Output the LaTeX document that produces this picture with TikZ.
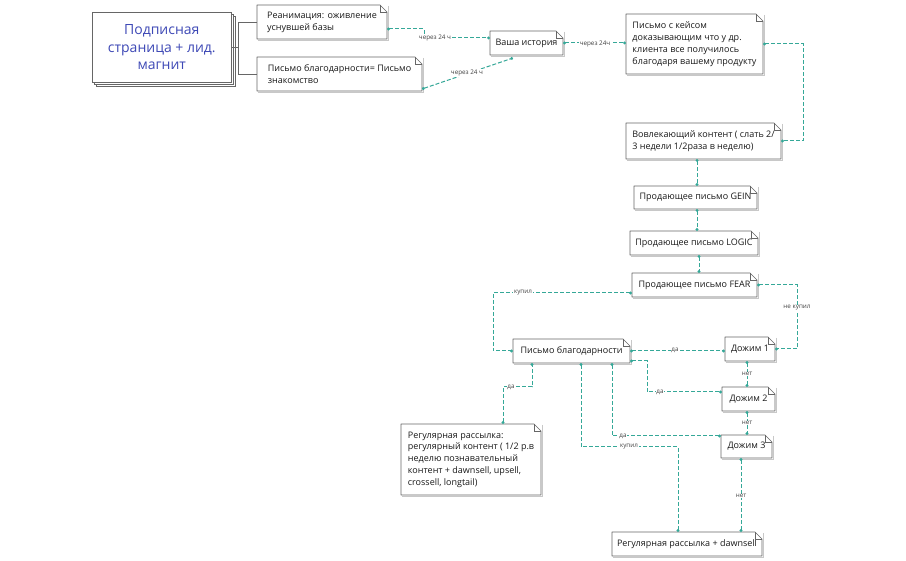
\documentclass[tikz,border=0pt]{standalone}
\usepackage{fontspec}
\setmainfont{Open Sans}
\usetikzlibrary{arrows.meta,calc}
\definecolor{teal1}{HTML}{35A898}
\definecolor{edge}{HTML}{666666}
\definecolor{shadowc}{HTML}{C8C8C8}
\definecolor{titleblue}{HTML}{3E49B6}
\tikzset{
  notebox/.style={draw=none, outer sep=0pt, anchor=north west, inner ysep=0pt, inner xsep=3pt, align=left, font=\fontsize{9}{11.8}\selectfont, text=black!90},
  conn/.style={draw=teal1, line width=1pt, dash pattern=on 4pt off 2pt, {Circle[length=2.8pt]}-{Circle[length=2.8pt]}},
  lbl/.style={fill=white, inner sep=0.6pt, font=\fontsize{6.3}{7}\selectfont, text=black!75},
  bracket/.style={draw=edge, line width=0.6pt},
}
\newcommand{\notebody}[1]{%
  \draw[shadowc, line width=0.8pt] ([xshift=1pt,yshift=-1pt]#1.north east) -- ([xshift=1pt,yshift=-1pt]#1.south east) -- ([xshift=1pt,yshift=-1pt]#1.south west);
  \draw[edge, line width=0.6pt, line join=round] (#1.north west) -- ([xshift=-7pt]#1.north east) -- ([yshift=-7pt]#1.north east) -- (#1.south east) -- (#1.south west) -- cycle;
  \draw[edge, line width=0.5pt] ([xshift=-7pt]#1.north east) |- ([yshift=-7pt]#1.north east);
}
\begin{document}
\begin{tikzpicture}[x=1pt,y=-1pt]
\useasboundingbox (0,0) rectangle (906,561);
\fill[white] (0,0) rectangle (906,561);

% main stacked box
\draw[edge, fill=white, line width=0.5pt] (96,16) rectangle (235,86);
\draw[edge, fill=white, line width=0.5pt] (94,14) rectangle (233,84);
\node[draw=edge, fill=white, line width=0.6pt, anchor=north west, minimum width=139pt, minimum height=70pt, inner sep=0pt, align=center, font=\fontsize{14}{17.5}\selectfont, text=titleblue] (main) at (92,12) {Подписная\\страница + лид.\\магнит};

% notes
\node[notebox, minimum width=130pt, minimum height=34pt] (reanim) at (257,5) {Реанимация: оживление\\уснувшей базы};
\node[notebox, minimum width=165pt, minimum height=34pt] (thanksa) at (257,57) {Письмо благодарности= Письмо\\знакомство};
\node[notebox, minimum width=73pt, minimum height=24pt] (hist) at (490,31) {Ваша история};
\node[notebox, minimum width=137pt, minimum height=60pt] (case) at (626,14) {Письмо с кейсом\\доказывающим что у др.\\клиента все получилось\\благодаря вашему продукту};
\node[notebox, minimum width=155pt, minimum height=36pt] (voc) at (626,123) {Вовлекающий контент ( слать 2/\\3 недели 1/2раза в неделю)};
\node[notebox, minimum width=123pt, minimum height=23pt] (gein) at (634,186) {Продающее письмо GEIN};
\node[notebox, minimum width=128pt, minimum height=24pt] (logic) at (630,231) {Продающее письмо LOGIC};
\node[notebox, minimum width=125pt, minimum height=24pt] (fear) at (632,273) {Продающее письмо FEAR};
\node[notebox, minimum width=117pt, minimum height=24pt] (thanksb) at (513,339) {Письмо благодарности};
\node[notebox, minimum width=50pt, minimum height=24pt, inner xsep=1pt] (dza) at (725,337) {Дожим 1};
\node[notebox, minimum width=53pt, minimum height=24pt, inner xsep=1pt] (dzb) at (722,387) {Дожим 2};
\node[notebox, minimum width=51pt, minimum height=23pt, inner xsep=1pt] (dzc) at (721,435) {Дожим 3};
\node[notebox, minimum width=140pt, minimum height=71pt] (rega) at (401,424) {Регулярная рассылка:\\регулярный контент ( 1/2 р.в\\неделю познавательный\\контент + dawnsell, upsell,\\crossell, longtail)};
\node[notebox, minimum width=150pt, minimum height=24pt] (regb) at (612,532) {Регулярная рассылка + dawnsell};

\foreach \n in {reanim,thanksa,hist,case,voc,gein,logic,fear,thanksb,dza,dzb,dzc,rega,regb}{\notebody{\n}}

% bracket
\draw[bracket] (main.east) -- ++(6,0);
\draw[bracket] (reanim.west) -- ++(-19,0) |- (thanksa.west);

% connectors (shifted half a pixel so that they fall on pixel centres)
\begin{scope}[yshift=-0.5pt, xshift=0.5pt]
\draw[conn] ([yshift=-7pt]reanim.east) -- ++(37,0) |- ([yshift=5pt]hist.west);
\draw[conn] ([yshift=2pt]thanksa.south east) -- ([xshift=-13.5pt,yshift=-3pt]hist.south);
\draw[conn] (hist.east) -- (hist.east -| case.west);
\draw[conn] (case.east) -- ++(40,0) |- (voc.east);
\draw[conn] ([xshift=1.5pt]gein.north |- voc.south) -- ([xshift=1.5pt]gein.north);
\draw[conn] ([xshift=1.5pt]gein.south) -- ([xshift=1.5pt]gein.south |- logic.north);
\draw[conn] ([xshift=5pt]logic.south) -- ([xshift=5pt]logic.south |- fear.north);
\draw[conn] ([yshift=4pt]fear.south west) -- ++(-139,0) |- (thanksb.west);
\draw[conn] (fear.east) -- ++(40,0) |- (dza.east);
\draw[conn] (thanksb.east) -- (thanksb.east -| dza.west);
\draw[conn] ([xshift=-3pt]dza.south) -- ([xshift=-3pt]dza.south |- dzb.north);
\draw[conn] ([xshift=-1.5pt]dzb.south) -- ([xshift=-1.5pt]dzb.south |- dzc.north);
\draw[conn] ([xshift=-5.5pt]dzc.south) -- ([xshift=-5.5pt]dzc.south |- regb.north);
\draw[conn] ([yshift=2pt]thanksb.south east) -- ++(17,0) |- ([yshift=7pt]dzb.west);
\draw[conn] ([xshift=40.5pt]thanksb.south) |- ([yshift=10.5pt]dzc.west);
\draw[conn] ([xshift=-9pt]regb.north) -- ++(0,-85) -| ([xshift=9.5pt]thanksb.south);
\draw[conn] ([xshift=32pt]rega.north) -- ++(0,-37) -| ([xshift=-39.5pt]thanksb.south);
\end{scope}

% labels
\node[lbl] (la) at (435,38) {через 24 ч};
\node[lbl] (lb) at (467,73) {через 24 ч};
\node[lbl] (lc) at (595,44) {через 24ч};
\node[lbl] (ld) at (523,293) {купил};
\node[lbl] (le) at (797,308) {не купил};
\node[lbl] (lf) at (675,350) {да};
\node[lbl] (lg) at (747,374) {нет};
\node[lbl] (lh) at (747,423) {нет};
\node[lbl] (li) at (741,496) {нет};
\node[lbl] (lj) at (660,392) {да};
\node[lbl] (lk) at (623,436) {да};
\node[lbl] (ll) at (629,447) {купил};
\node[lbl] (lm) at (511,387) {да};
\end{tikzpicture}
\end{document}
